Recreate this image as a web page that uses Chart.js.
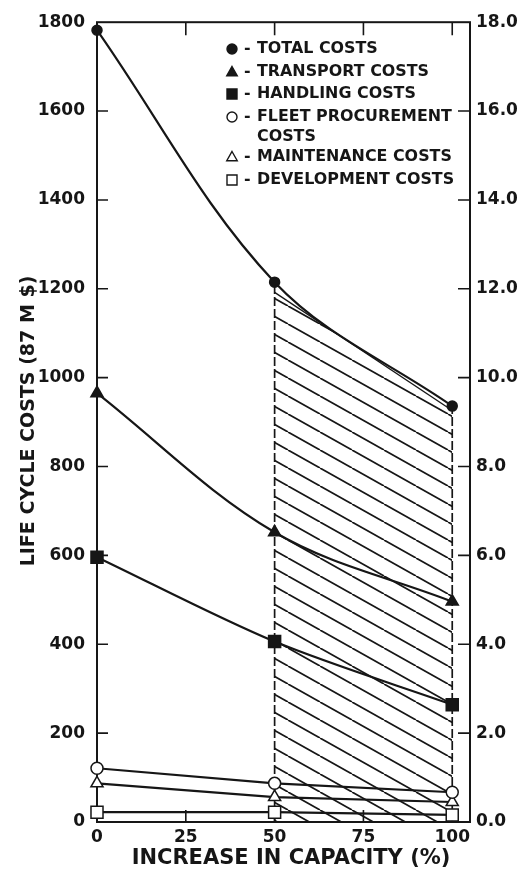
<!DOCTYPE html>
<html>
<head>
<meta charset="utf-8">
<script src="https://cdn.jsdelivr.net/npm/chart.js@4.4.0/dist/chart.umd.min.js"></script>
<style>
  html, body { margin: 0; padding: 0; background: #fff; }
</style>
</head>
<body>
<canvas id="lcc" width="522" height="871"></canvas>
<script>
// values (left axis, 87 M $)
const capacity = [0, 50, 100];
const totalCosts = [1782, 1215, 936];
const transportCosts = [965, 652, 496];
const handlingCosts = [596, 406, 264];
const fleetCosts = [121, 87, 67];
const maintenanceCosts = [87, 56, 45];
const developmentCosts = [22, 22, 16];

// hatched band between 50 % and 100 %
const shadedX = [50, 100];
const shadedTop = [1192, 926];

const xTicks = [0, 25, 50, 75, 100];
const yTicks = [0, 200, 400, 600, 800, 1000, 1200, 1400, 1600, 1800];
const y2Ticks = [0, 2, 4, 6, 8, 10, 12, 14, 16, 18];
const xMax = 105;

const seriesNames = ['TOTAL COSTS', 'TRANSPORT COSTS', 'HANDLING COSTS',
  'FLEET PROCUREMENT\nCOSTS', 'MAINTENANCE COSTS', 'DEVELOPMENT COSTS'];

const ink = '#161616';
const FONT = 'DejaVu Sans';

function pts(ys) {
  return capacity.map((c, i) => ({ x: c, y: ys[i] }));
}

function hatchPattern() {
  const w = 32, h = 18;
  const c = document.createElement('canvas');
  c.width = w; c.height = h;
  const g = c.getContext('2d');
  g.strokeStyle = ink;
  g.lineWidth = 1.7;
  for (const dx of [-w, 0, w]) {
    g.beginPath();
    g.moveTo(dx, 0);
    g.lineTo(dx + w, h);
    g.stroke();
  }
  return g.createPattern(c, 'repeat');
}

function series(i, ys, style, filled, radius, tension) {
  return {
    label: seriesNames[i],
    data: pts(ys),
    borderColor: ink,
    borderWidth: 2.2,
    tension: tension,
    pointStyle: style,
    pointRadius: radius,
    pointBorderWidth: 1.5,
    pointBorderColor: ink,
    pointBackgroundColor: filled ? ink : '#fff',
    clip: false,
    order: 1
  };
}

// little marker drawer for the legend
function marker(ctx, style, filled, x, y, s) {
  ctx.save();
  ctx.beginPath();
  if (style === 'circle') {
    ctx.arc(x, y, s, 0, Math.PI * 2);
  } else if (style === 'triangle') {
    ctx.moveTo(x, y - s * 1.1);
    ctx.lineTo(x + s * 1.05, y + s * 0.75);
    ctx.lineTo(x - s * 1.05, y + s * 0.75);
    ctx.closePath();
  } else {
    ctx.rect(x - s, y - s, s * 2, s * 2);
  }
  ctx.fillStyle = filled ? ink : '#fff';
  ctx.fill();
  ctx.lineWidth = 1.4;
  ctx.strokeStyle = ink;
  ctx.stroke();
  ctx.restore();
}

const legendRows = [
  { style: 'circle', filled: true, y: 49 },
  { style: 'triangle', filled: true, y: 72 },
  { style: 'rect', filled: true, y: 94 },
  { style: 'circle', filled: false, y: 117 },
  { style: 'triangle', filled: false, y: 157 },
  { style: 'rect', filled: false, y: 180 }
];

const framePlugin = {
  id: 'frame',
  beforeDatasetsDraw(chart) {
    const { ctx, chartArea: a, scales } = chart;
    ctx.save();
    ctx.strokeStyle = ink;
    ctx.lineWidth = 2;
    ctx.strokeRect(a.left, a.top, a.right - a.left, a.bottom - a.top);
    ctx.lineWidth = 1.6;
    ctx.beginPath();
    yTicks.slice(1, -1).forEach(v => {
      const y = scales.y.getPixelForValue(v);
      ctx.moveTo(a.left, y); ctx.lineTo(a.left + 11, y);
    });
    y2Ticks.slice(1, -1).forEach(v => {
      const y = scales.y2.getPixelForValue(v);
      ctx.moveTo(a.right, y); ctx.lineTo(a.right - 12, y);
    });
    xTicks.slice(1).forEach(v => {
      const x = scales.x.getPixelForValue(v);
      ctx.moveTo(x, a.top); ctx.lineTo(x, a.top + 13);
      ctx.moveTo(x, a.bottom); ctx.lineTo(x, a.bottom - 12);
    });
    ctx.stroke();
    ctx.restore();
  },
  afterDraw(chart) {
    const { ctx } = chart;
    ctx.save();
    ctx.fillStyle = ink;
    // axis titles
    ctx.font = `bold 21px "${FONT}"`;
    ctx.textAlign = 'center';
    ctx.textBaseline = 'middle';
    ctx.fillText('INCREASE IN CAPACITY (%)', 291, 859);
    ctx.save();
    ctx.translate(29, 421);
    ctx.rotate(-Math.PI / 2);
    ctx.font = `bold 19px "${FONT}"`;
    ctx.fillText('LIFE CYCLE COSTS (87 M $)', 0, 0);
    ctx.restore();
    // legend
    ctx.font = `bold 15.9px "${FONT}"`;
    ctx.textAlign = 'left';
    legendRows.forEach((r, i) => {
      marker(ctx, r.style, r.filled, 232, r.y, 5);
      ctx.fillText('-', 244, r.y);
      seriesNames[i].split('\n').forEach((line, k) => {
        ctx.fillText(line, 257, r.y + k * 20);
      });
    });
    ctx.restore();
  }
};

const tickFont = { family: FONT, weight: 'bold', size: 17 };

new Chart(document.getElementById('lcc'), {
  type: 'line',
  data: {
    datasets: [
      series(0, totalCosts, 'circle', true, 5, 0.35),
      series(1, transportCosts, 'triangle', true, 7, 0.35),
      series(2, handlingCosts, 'rect', true, 8.5, 0.3),
      series(3, fleetCosts, 'circle', false, 6, 0),
      series(4, maintenanceCosts, 'triangle', false, 7, 0),
      series(5, developmentCosts, 'rect', false, 8.5, 0),
      {
        label: 'shaded',
        data: shadedX.map((x, i) => ({ x: x, y: shadedTop[i] })),
        borderColor: ink,
        borderWidth: 1.3,
        backgroundColor: hatchPattern(),
        fill: 'origin',
        pointRadius: 0,
        tension: 0,
        order: 10
      },
      {
        label: 'edge50',
        data: [{ x: shadedX[0], y: 0 }, { x: shadedX[0], y: totalCosts[1] }],
        borderColor: ink,
        borderWidth: 1.7,
        borderDash: [9, 3],
        pointRadius: 0,
        order: 5
      },
      {
        label: 'edge100',
        data: [{ x: shadedX[1], y: 0 }, { x: shadedX[1], y: totalCosts[2] }],
        borderColor: ink,
        borderWidth: 1.7,
        borderDash: [9, 3],
        pointRadius: 0,
        order: 5
      }
    ]
  },
  options: {
    responsive: false,
    animation: false,
    layout: { padding: { top: 16, left: 0, right: 0, bottom: 0 } },
    plugins: {
      legend: { display: false },
      tooltip: { enabled: false }
    },
    scales: {
      x: {
        type: 'linear',
        min: 0,
        max: xMax,
        grid: { display: false, drawTicks: false },
        border: { display: false },
        ticks: { color: ink, font: tickFont, padding: 5, maxRotation: 0, callback: v => String(v) },
        afterBuildTicks: s => { s.ticks = xTicks.map(v => ({ value: v })); },
        afterFit: s => { s.height = 49; }
      },
      y: {
        position: 'left',
        min: 0,
        max: 1800,
        grid: { display: false, drawTicks: false },
        border: { display: false },
        ticks: { color: ink, font: tickFont, padding: 12, callback: v => String(v) },
        afterBuildTicks: s => { s.ticks = yTicks.map(v => ({ value: v })); },
        afterFit: s => { s.width = 97; }
      },
      y2: {
        position: 'right',
        min: 0,
        max: 18,
        grid: { display: false, drawTicks: false },
        border: { display: false },
        ticks: { color: ink, font: tickFont, padding: 6, callback: v => v.toFixed(1) },
        afterBuildTicks: s => { s.ticks = y2Ticks.map(v => ({ value: v })); },
        afterFit: s => { s.width = 52; }
      }
    }
  },
  plugins: [framePlugin]
});
</script>
</body>
</html>
